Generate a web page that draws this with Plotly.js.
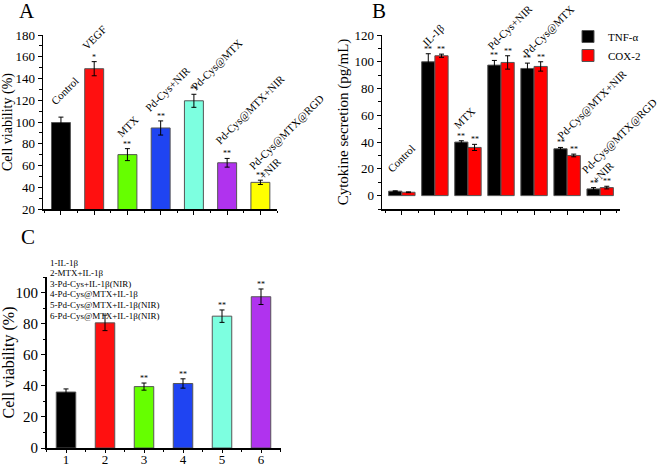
<!DOCTYPE html>
<html><head><meta charset="utf-8">
<script src="https://cdn.plot.ly/plotly-3.0.1.min.js"></script>
<style>html,body{margin:0;padding:0;background:#fff}#chart{width:660px;height:469px}</style>
</head><body><div id="chart"></div>
<script>
// ---- Panel A data ----
const catsA = ["Control", "VEGF", "MTX", "Pd-Cys+NIR", "Pd-Cys@MTX", "Pd-Cys@MTX+NIR", "Pd-Cys@MTX@RGD<br>+NIR"];
const valsA = [99.5, 149, 70, 94.5, 119.5, 62.5, 44.5];
const errA = [5, 6.5, 5.5, 6.5, 6, 4, 2];
const colorsA = ["#000000", "#ff1010", "#66ff00", "#1f44f2", "#7dffe0", "#b033ee", "#ffff00"];
const sigA = ["", "*", "**", "**", "**", "**", "**"];

// ---- Panel B data ----
const catsB = ["Control", "IL-1β", "MTX", "Pd-Cys+NIR", "Pd-Cys@MTX", "Pd-Cys@MTX+NIR", "Pd-Cys@MTX@RGD<br>+NIR"];
const seriesB = ["TNF-α", "COX-2"];
const tnf = [3.3, 100, 40, 97.5, 95, 35, 5];
const tnfErr = [0.3, 6, 1, 3.5, 4, 1, 1];
const cox = [2.5, 104.5, 36, 99.5, 96.5, 30, 6];
const coxErr = [0.3, 1.2, 2.3, 5, 3.5, 1, 1];
const sigTnf = ["", "**", "**", "**", "**", "**", "**"];
const sigCox = ["", "**", "**", "**", "**", "**", "**"];

// ---- Panel C data ----
const catsC = ["1", "2", "3", "4", "5", "6"];
const valsC = [36, 80.5, 39.5, 41.5, 84.8, 97.3];
const errC = [2, 5, 2.3, 3, 4, 5];
const colorsC = ["#000000", "#ff1010", "#66ff00", "#1f44f2", "#7dffe0", "#b033ee"];
const sigC = ["", "", "**", "**", "**", "**"];
const legendC = ["1-IL-1β", "2-MTX+IL-1β", "3-Pd-Cys+IL-1β(NIR)", "4-Pd-Cys@MTX+IL-1β", "5-Pd-Cys@MTX+IL-1β(NIR)", "6-Pd-Cys@MTX+IL-1β(NIR)"];

// ---- label placement (style only): [dx, dy] px of text start from bar top ----
const labOffA = [[-6, 9], [-7, 9], [-6, 9], [-11, 6], [1, 1], [-7, 11], [3, -2]];
const labOffB = [[-10, 16], [-8, 4], [-10, 9], [-9, 3], [-7, 2], [-5, 5], [-4, 0]];

const F = "Liberation Serif, Times New Roman, serif";
const W = 660, H = 469;
const px = v => v / W, py = v => 1 - v / H;

const xA = catsA.map((c, i) => i + 1);
const xB = catsB.map((c, i) => i + 1);
const xC = catsC.map((c, i) => i + 1);

const eb = arr => ({type: 'data', array: arr, visible: true, color: '#000', thickness: 1, width: 2.5});
const barLine = {color: '#555', width: 1};

const traces = [
  {type: 'bar', x: xA, y: valsA, width: 0.57, marker: {color: colorsA, line: barLine},
   error_y: eb(errA), xaxis: 'x', yaxis: 'y', showlegend: false},
  {type: 'bar', name: seriesB[0], x: xB, y: tnf, width: 0.4, offset: -0.4, marker: {color: '#000000', line: barLine},
   error_y: eb(tnfErr), xaxis: 'x2', yaxis: 'y2', showlegend: true},
  {type: 'bar', name: seriesB[1], x: xB, y: cox, width: 0.4, offset: 0.0, marker: {color: '#ff0000', line: barLine},
   error_y: eb(coxErr), xaxis: 'x2', yaxis: 'y2', showlegend: true},
  {type: 'bar', x: xC, y: valsC, width: 0.5, marker: {color: colorsC, line: barLine},
   error_y: eb(errC), xaxis: 'x3', yaxis: 'y3', showlegend: false}
];

const LABEL_SIZE = 11;
const boxH = t => (t.split('<br>').length) * LABEL_SIZE * 1.3 + 2;
const ann = [];
// panel letters
[["A", 27, 11], ["B", 379, 11], ["C", 28, 237]].forEach(p => ann.push({
  xref: 'paper', yref: 'paper', x: px(p[1]), y: py(p[2]), text: p[0], showarrow: false,
  xanchor: 'center', yanchor: 'middle', font: {family: F, size: 21, color: '#000'}
}));
// panel A labels
catsA.forEach((c, i) => {
  const top = valsA[i] + errA[i];
  ann.push({xref: 'x', yref: 'y', x: xA[i], y: top, text: c, textangle: -45, showarrow: false,
    xanchor: 'left', yanchor: 'bottom', xshift: labOffA[i][0] - 0.707 * boxH(c) + 2, yshift: labOffA[i][1] - 2,
    align: 'left', font: {family: F, size: LABEL_SIZE, color: '#000'}});
  if (sigA[i]) ann.push({xref: 'x', yref: 'y', x: xA[i], y: top, text: sigA[i], showarrow: false,
    xanchor: 'center', yanchor: 'bottom', yshift: -2, font: {family: F, size: 8, color: '#000'}});
});
// panel B labels
catsB.forEach((c, i) => {
  const top = Math.max(tnf[i] + tnfErr[i], cox[i] + coxErr[i]);
  ann.push({xref: 'x2', yref: 'y2', x: xB[i], y: top, text: c, textangle: -45, showarrow: false,
    xanchor: 'left', yanchor: 'bottom', xshift: labOffB[i][0] - 0.707 * boxH(c) + 2, yshift: labOffB[i][1] - 2,
    align: 'left', font: {family: F, size: LABEL_SIZE, color: '#000'}});
  if (sigTnf[i]) ann.push({xref: 'x2', yref: 'y2', x: xB[i] - 0.2, y: tnf[i] + tnfErr[i], text: sigTnf[i], showarrow: false,
    xanchor: 'center', yanchor: 'bottom', yshift: -2, font: {family: F, size: 8, color: '#000'}});
  if (sigCox[i]) ann.push({xref: 'x2', yref: 'y2', x: xB[i] + 0.2, y: cox[i] + coxErr[i], text: sigCox[i], showarrow: false,
    xanchor: 'center', yanchor: 'bottom', yshift: -2, font: {family: F, size: 8, color: '#000'}});
});
// panel C asterisks
catsC.forEach((c, i) => {
  if (sigC[i]) ann.push({xref: 'x3', yref: 'y3', x: xC[i], y: valsC[i] + errC[i], text: sigC[i], showarrow: false,
    xanchor: 'center', yanchor: 'bottom', yshift: -2, font: {family: F, size: 8, color: '#000'}});
});
// panel C key text
legendC.forEach((t, i) => ann.push({xref: 'paper', yref: 'paper', x: px(48), y: py(262.5 + i * 10.6), text: t,
  showarrow: false, xanchor: 'left', yanchor: 'middle', font: {family: F, size: 9, color: '#000'}}));

const axBase = {showline: true, linewidth: 1.5, linecolor: '#000', showgrid: false, zeroline: false,
  ticks: 'outside', ticklen: 4, tickwidth: 1, tickcolor: '#000', automargin: false, fixedrange: true};
const tf = s => ({family: F, size: s, color: '#000'});
const minorX = {ticks: 'outside', ticklen: 2.5, tickcolor: '#000', tickmode: 'linear', tick0: 0.5, dtick: 1};

const layout = {
  width: W, height: H, margin: {l: 0, r: 0, t: 0, b: 0}, paper_bgcolor: '#fff', plot_bgcolor: 'rgba(0,0,0,0)',
  barmode: 'group', font: {family: F, color: '#000'},
  xaxis: Object.assign({}, axBase, {domain: [px(43), px(277)], anchor: 'y', range: [0.46, 7.5],
    tickmode: 'array', tickvals: xA, showticklabels: false, minor: minorX}),
  yaxis: Object.assign({}, axBase, {domain: [py(209), py(35)], anchor: 'x', range: [20, 180],
    tickmode: 'linear', tick0: 20, dtick: 20, tickfont: tf(13),
    minor: {ticks: 'outside', ticklen: 2.5, tickcolor: '#000', dtick: 10},
    title: {text: 'Cell viability (%)', font: tf(14), standoff: 3}}),
  xaxis2: Object.assign({}, axBase, {domain: [px(382), px(620)], anchor: 'y2', range: [0.4, 7.6],
    tickmode: 'array', tickvals: xB, showticklabels: false, minor: minorX}),
  yaxis2: Object.assign({}, axBase, {domain: [py(209), py(35)], anchor: 'x2', range: [-10, 120],
    tickmode: 'linear', tick0: 0, dtick: 20, tickfont: tf(13),
    minor: {ticks: 'outside', ticklen: 2.5, tickcolor: '#000', dtick: 10},
    title: {text: 'Cytokine secretion (pg/mL)', font: tf(15), standoff: 2}}),
  xaxis3: Object.assign({}, axBase, {domain: [px(46.5), px(280.5)], anchor: 'y3', range: [0.5, 6.5],
    tickmode: 'array', tickvals: xC, ticktext: catsC, tickfont: tf(13), ticklen: 3, ticklabelstandoff: -4,
    minor: minorX}),
  yaxis3: Object.assign({}, axBase, {domain: [py(448), py(277)], anchor: 'x3', range: [0, 110],
    tickmode: 'linear', tick0: 0, dtick: 20, tickfont: tf(15),
    minor: {ticks: 'outside', ticklen: 2.5, tickcolor: '#000', dtick: 10},
    title: {text: 'Cell viability (%)', font: tf(16), standoff: 4}}),
  legend: {x: px(568), y: py(22), xanchor: 'left', yanchor: 'top', bgcolor: 'rgba(0,0,0,0)',
    font: tf(11), itemwidth: 30, tracegroupgap: 0, traceorder: 'normal'},
  annotations: ann
};

Plotly.newPlot('chart', traces, layout, {staticPlot: true, displayModeBar: false});
</script>
</body></html>
